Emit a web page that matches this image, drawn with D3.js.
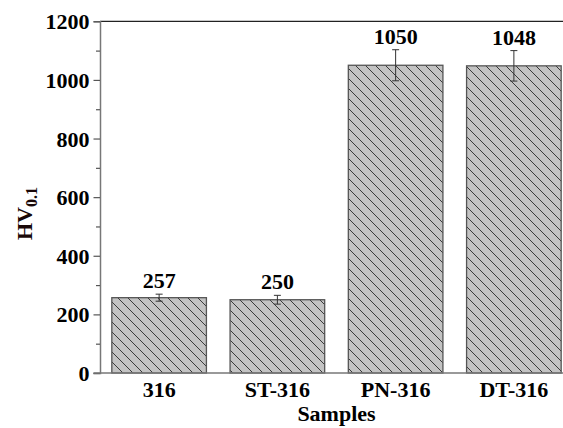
<!DOCTYPE html>
<html>
<head>
<meta charset="utf-8">
<script src="https://cdn.jsdelivr.net/npm/d3@7"></script>
<style>
  html, body { margin: 0; padding: 0; background: #fff; }
  svg { display: block; }
  text { font-family: "Liberation Serif", "Times New Roman", serif; font-weight: bold; }
</style>
</head>
<body>
<svg id="chart" width="563" height="428"></svg>
<script>
// Microhardness of each sample
const samples = ["316", "ST-316", "PN-316", "DT-316"];
const hardness = [257, 250, 1050, 1048];
const hardnessErr = [12, 15, 53, 52];
const yTicks = [0, 200, 400, 600, 800, 1000, 1200];
const yMinorTicks = [100, 300, 500, 700, 900, 1100];

const svg = d3.select("#chart");
const margin = { left: 100, right: 573, top: 21.3, bottom: 373 };
const serif = "'Liberation Serif', 'Times New Roman', serif";

const x = d3.scaleBand()
  .domain(samples)
  .range([margin.left, margin.right])
  .paddingInner(0.2)
  .paddingOuter(0.1);

const y = d3.scaleLinear()
  .domain([0, 1200])
  .range([margin.bottom, margin.top]);

// Diagonal hatch fill
const defs = svg.append("defs");
const pat = defs.append("pattern")
  .attr("id", "hatch")
  .attr("patternUnits", "userSpaceOnUse")
  .attr("width", 10)
  .attr("height", 10);
pat.append("rect").attr("width", 10).attr("height", 10).attr("fill", "#c3c3c3");
pat.append("path")
  .attr("d", "M-5,-5 L15,15 M-5,5 L5,15 M5,-5 L15,5")
  .attr("stroke", "#2a2a2a")
  .attr("stroke-width", 0.9);

// Top frame line
svg.append("line")
  .attr("x1", margin.left).attr("x2", margin.right)
  .attr("y1", y(1200)).attr("y2", y(1200))
  .attr("stroke", "#222").attr("stroke-width", 1.2);

// Bars
svg.selectAll("rect.bar")
  .data(samples)
  .join("rect")
  .attr("class", "bar")
  .attr("x", d => x(d))
  .attr("width", x.bandwidth())
  .attr("y", (d, i) => y(hardness[i]))
  .attr("height", (d, i) => y(0) - y(hardness[i]))
  .attr("fill", "url(#hatch)")
  .attr("stroke", "#555")
  .attr("stroke-width", 1.3);

// Error bars
const eb = svg.selectAll("g.err")
  .data(samples)
  .join("g")
  .attr("class", "err")
  .attr("stroke", "#333")
  .attr("stroke-width", 1);
eb.append("line")
  .attr("x1", d => x(d) + x.bandwidth() / 2)
  .attr("x2", d => x(d) + x.bandwidth() / 2)
  .attr("y1", (d, i) => y(hardness[i] + hardnessErr[i]))
  .attr("y2", (d, i) => y(hardness[i] - hardnessErr[i]));
[1, -1].forEach(s => {
  eb.append("line")
    .attr("x1", d => x(d) + x.bandwidth() / 2 - 3.5)
    .attr("x2", d => x(d) + x.bandwidth() / 2 + 3.5)
    .attr("y1", (d, i) => y(hardness[i] + s * hardnessErr[i]))
    .attr("y2", (d, i) => y(hardness[i] + s * hardnessErr[i]));
});

// Value labels
svg.selectAll("text.val")
  .data(samples)
  .join("text")
  .attr("class", "val")
  .attr("x", d => x(d) + x.bandwidth() / 2)
  .attr("y", (d, i) => y(hardness[i] + hardnessErr[i]) - 6)
  .attr("text-anchor", "middle")
  .attr("font-size", 22)
  .attr("fill", "#000")
  .text((d, i) => hardness[i]);

// Y axis
const yAxis = svg.append("g")
  .attr("transform", `translate(${margin.left},0)`)
  .call(d3.axisLeft(y).tickValues(yTicks).tickSize(6.5).tickPadding(4).tickFormat(d3.format("d")));
yAxis.select(".domain").attr("stroke", "#777").attr("stroke-width", 1.5);
yAxis.selectAll(".tick line").attr("stroke", "#555").attr("stroke-width", 1.2);
yAxis.selectAll(".tick text")
  .attr("font-size", 22)
  .attr("font-family", serif)
  .attr("font-weight", "bold")
  .attr("fill", "#000")
  .attr("dy", "0.34em");

const yMinor = svg.append("g")
  .attr("transform", `translate(${margin.left},0)`)
  .call(d3.axisLeft(y).tickValues(yMinorTicks).tickSize(4).tickFormat(""));
yMinor.select(".domain").remove();
yMinor.selectAll(".tick line").attr("stroke", "#555").attr("stroke-width", 1.2);

// X axis
const xAxis = svg.append("g")
  .attr("transform", `translate(0,${y(0)})`)
  .call(d3.axisBottom(x).tickSize(0).tickPadding(8));
xAxis.select(".domain")
  .attr("d", `M${margin.left - 6.5},0H${margin.right}`)
  .attr("stroke", "#777").attr("stroke-width", 1.5);
xAxis.selectAll(".tick text")
  .attr("font-size", 22)
  .attr("font-family", serif)
  .attr("font-weight", "bold")
  .attr("fill", "#000")
  .attr("dy", "0.71em");

// Axis titles
svg.append("text")
  .attr("x", (margin.left + margin.right) / 2)
  .attr("y", 421)
  .attr("text-anchor", "middle")
  .attr("font-size", 22)
  .attr("fill", "#000")
  .text("Samples");

const yTitle = svg.append("text")
  .attr("transform", "translate(32,240) rotate(-90)")
  .attr("text-anchor", "start")
  .attr("font-size", 22)
  .attr("fill", "#1a0808");
yTitle.append("tspan").text("HV");
yTitle.append("tspan").attr("font-size", 16).attr("dy", 5).text("0.1");
</script>
</body>
</html>
